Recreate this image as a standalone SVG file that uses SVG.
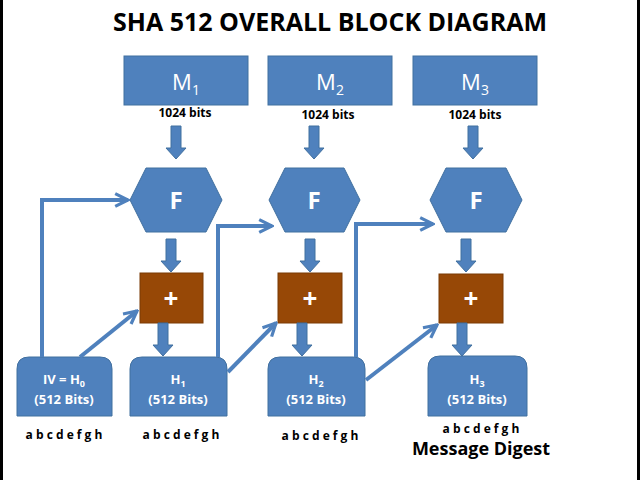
<svg xmlns="http://www.w3.org/2000/svg" width="640" height="480" viewBox="0 0 640 480">
<style>
text{font-family:"Open Sans","Liberation Sans",sans-serif;font-weight:bold;text-anchor:middle}
.b{fill:#4f81bd;stroke:#41709f;stroke-width:1}
.p{fill:#974806;stroke:#7a3a05;stroke-width:1}
.w{fill:#fff}
.c{fill:none;stroke:#4f81bd;stroke-width:4}
.ba{fill:#4f81bd;stroke:#41709f;stroke-width:1}
.s{font-size:12px;fill:#000}
</style>
<defs><marker id="o" viewBox="0 0 10 10" refX="9" refY="5" markerWidth="4" markerHeight="4" orient="auto"><path d="M1,1 L9,5 L1,9" fill="none" stroke="#4f81bd" stroke-width="2"/></marker>
<path id="ar" d="M-5,0 H5 V22 H10 L0,33 L-10,22 H-5 Z"/></defs>
<rect width="640" height="480" fill="#fff"/>
<rect x="0" y="0" width="3" height="480" fill="#000"/>
<rect x="637" y="0" width="3" height="480" fill="#000"/>
<text x="330" y="31" font-size="25" fill="#000">SHA 512 OVERALL BLOCK DIAGRAM</text>
<g id="m1"><rect class="b" x="124" y="56" width="124" height="49"/><text class="w" x="186" y="90" font-size="22" font-weight="normal" style="font-weight:normal">M<tspan font-size="14" dy="5">1</tspan></text><text class="s" x="185" y="117">1024 bits</text></g>
<g id="m2"><rect class="b" x="268" y="56" width="124" height="49"/><text class="w" x="330" y="90" font-size="22" style="font-weight:normal">M<tspan font-size="14" dy="5">2</tspan></text><text class="s" x="328" y="119">1024 bits</text></g>
<g id="m3"><rect class="b" x="413" y="56" width="124" height="49"/><text class="w" x="475" y="90" font-size="22" style="font-weight:normal">M<tspan font-size="14" dy="5">3</tspan></text><text class="s" x="475" y="119">1024 bits</text></g>
<g id="f1"><polygon class="b" points="130,200 146,168 206,168 222,200 206,232 146,232"/><text class="w" x="176" y="209" font-size="24">F</text></g>
<g id="f2"><polygon class="b" points="269,200 285,168 344,168 360,200 344,232 285,232"/><text class="w" x="314" y="209" font-size="24">F</text></g>
<g id="f3"><polygon class="b" points="430,200 446,168 506,168 522,200 506,232 446,232"/><text class="w" x="476" y="209" font-size="24">F</text></g>
<g id="p1"><rect class="p" x="140" y="273" width="63" height="50"/><text class="w" x="171" y="308" font-size="26">+</text></g>
<g id="p2"><rect class="p" x="278" y="273" width="64" height="50"/><text class="w" x="310" y="308" font-size="26">+</text></g>
<g id="p3"><rect class="p" x="439" y="274" width="64" height="49"/><text class="w" x="471" y="308" font-size="26">+</text></g>
<g id="h0"><path class="b" d="M17,416 V369 Q17,357 29,357 H100 Q112,357 112,369 V416 Z"/><text class="w" x="64" y="384" font-size="13">IV = H<tspan font-size="9" dy="3">0</tspan></text><text class="w" x="64" y="404" font-size="13">(512 Bits)</text><text class="s" x="64" y="439">a b  c d e f g h</text></g>
<g id="h1"><path class="b" d="M130,416 V369 Q130,357 142,357 H215 Q227,357 227,369 V416 Z"/><text class="w" x="178" y="384" font-size="13">H<tspan font-size="9" dy="3">1</tspan></text><text class="w" x="178" y="404" font-size="13">(512 Bits)</text><text class="s" x="181" y="439">a b  c d e f g h</text></g>
<g id="h2"><path class="b" d="M268,416 V369 Q268,357 280,357 H353 Q365,357 365,369 V416 Z"/><text class="w" x="316" y="384" font-size="13">H<tspan font-size="9" dy="3">2</tspan></text><text class="w" x="316" y="404" font-size="13">(512 Bits)</text><text class="s" x="320" y="440">a b  c d e f g h</text></g>
<g id="h3"><path class="b" d="M428,416 V368 Q428,356 440,356 H515 Q527,356 527,368 V416 Z"/><text class="w" x="477" y="384" font-size="13">H<tspan font-size="9" dy="3">3</tspan></text><text class="w" x="477" y="404" font-size="13">(512 Bits)</text><text class="s" x="481" y="433">a b  c d e f g h</text><text x="481" y="455" font-size="18" fill="#000">Message Digest</text></g>
<g id="connectors">
<use href="#ar" class="ba" x="176" y="126"/><use href="#ar" class="ba" x="314" y="126"/><use href="#ar" class="ba" x="473" y="126"/>
<use href="#ar" class="ba" x="171" y="239"/><use href="#ar" class="ba" x="310" y="239"/><use href="#ar" class="ba" x="466" y="239"/>
<use href="#ar" class="ba" x="163" y="323"/><use href="#ar" class="ba" x="302" y="323"/><use href="#ar" class="ba" x="462" y="323"/>
<path class="c" d="M42,357 V200 H128" marker-end="url(#o)"/>
<path class="c" d="M80,357 L137,311" marker-end="url(#o)"/>
<path class="c" d="M218,357 V226 H272" marker-end="url(#o)"/>
<path class="c" d="M228,372 L276,323" marker-end="url(#o)"/>
<path class="c" d="M356,357 V224 H433" marker-end="url(#o)"/>
<path class="c" d="M366,380 L437,325" marker-end="url(#o)"/>
</g>
</svg>
